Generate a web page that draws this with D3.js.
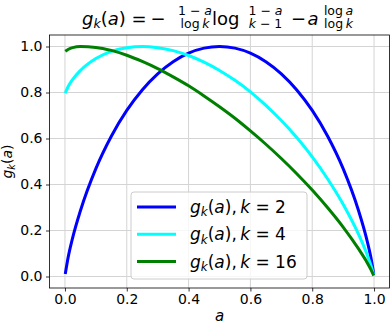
<!DOCTYPE html>
<html>
<head>
<meta charset="utf-8">
<script src="https://cdn.jsdelivr.net/npm/d3@7"></script>
<style>
  body { margin: 0; background: #fff; }
  svg { font-family: "DejaVu Sans", sans-serif; }
</style>
</head>
<body>
<div id="plot"></div>
<script>
// Width and height
const w = 391;
const h = 325;
const margin = {top: 35, right: 1.5, bottom: 37, left: 49.5};
const innerWidth = w - margin.left - margin.right;
const innerHeight = h - margin.top - margin.bottom;

// data
const aValues = [0.001, 0.01, 0.025, 0.05, 0.1, 0.15, 0.2, 0.25, 0.3, 0.35, 0.4, 0.45, 0.5,
  0.55, 0.6, 0.65, 0.7, 0.75, 0.8, 0.85, 0.9, 0.95, 0.975, 0.99, 0.999];
const gK2 = [0.011, 0.081, 0.169, 0.286, 0.469, 0.610, 0.722, 0.811, 0.881, 0.934, 0.971, 0.993, 1.0,
  0.993, 0.971, 0.934, 0.881, 0.811, 0.722, 0.610, 0.469, 0.286, 0.169, 0.081, 0.011];
const gK4 = [0.797, 0.825, 0.857, 0.896, 0.948, 0.979, 0.995, 1.0, 0.995, 0.982, 0.961, 0.932, 0.896,
  0.853, 0.803, 0.744, 0.678, 0.604, 0.520, 0.424, 0.314, 0.183, 0.104, 0.048, 0.007];
const gK16 = [0.979, 0.987, 0.995, 0.9995, 0.996, 0.983, 0.962, 0.935, 0.904, 0.868, 0.829, 0.785, 0.738,
  0.688, 0.633, 0.575, 0.513, 0.447, 0.376, 0.299, 0.215, 0.120, 0.067, 0.030, 0.004];
const seriesK = ["2", "4", "16"];
const seriesColors = ["#0000ff", "#00ffff", "#008000"];
const xTicks = [0, 0.2, 0.4, 0.6, 0.8, 1.0];
const yTicks = [0, 0.2, 0.4, 0.6, 0.8, 1.0];

const series = [gK2, gK4, gK16];

// create SVG element
const svg = d3.select("div#plot")
  .append("svg")
    .attr("width", w)
    .attr("height", h);

svg.append("rect")
  .attr("width", w)
  .attr("height", h)
  .attr("fill", "#ffffff");

const plot = svg.append("g")
  .attr("id", "plot")
  .attr("transform", `translate(${margin.left}, ${margin.top})`);

// scales with matplotlib style 5% margins
const xScale = d3.scaleLinear()
  .domain([-0.05, 1.05])
  .range([0, innerWidth]);

const yScale = d3.scaleLinear()
  .domain([-0.05, 1.05])
  .range([innerHeight, 0]);

// grid
plot.append("g")
  .selectAll("line")
  .data(xTicks)
  .enter()
  .append("line")
    .attr("x1", d => xScale(d))
    .attr("x2", d => xScale(d))
    .attr("y1", 0)
    .attr("y2", innerHeight)
    .attr("stroke", "#d4d4d4")
    .attr("stroke-width", 1);

plot.append("g")
  .selectAll("line")
  .data(yTicks)
  .enter()
  .append("line")
    .attr("x1", 0)
    .attr("x2", innerWidth)
    .attr("y1", d => yScale(d))
    .attr("y2", d => yScale(d))
    .attr("stroke", "#d4d4d4")
    .attr("stroke-width", 1);

// lines
const line = d3.line()
  .x((d, i) => xScale(aValues[i]))
  .y(d => yScale(d))
  .curve(d3.curveMonotoneX);

plot.append("g")
  .selectAll("path")
  .data(series)
  .enter()
  .append("path")
    .attr("d", d => line(d))
    .attr("fill", "none")
    .attr("stroke", (d, i) => seriesColors[i])
    .attr("stroke-width", 3);

// axes
const xAxis = d3.axisBottom(xScale)
  .tickValues(xTicks)
  .tickFormat(d3.format(".1f"))
  .tickSizeOuter(0)
  .tickSize(3.5)
  .tickPadding(3);

const yAxis = d3.axisLeft(yScale)
  .tickValues(yTicks)
  .tickFormat(d3.format(".1f"))
  .tickSizeOuter(0)
  .tickSize(3.5)
  .tickPadding(3.5);

const gx = plot.append("g")
  .attr("transform", `translate(0, ${innerHeight})`)
  .call(xAxis);

const gy = plot.append("g")
  .call(yAxis);

[gx, gy].forEach(g => {
  g.select(".domain").remove();
  g.selectAll("text")
    .attr("font-family", "DejaVu Sans")
    .attr("font-size", 14)
    .attr("fill", "#000");
  g.selectAll("line").attr("stroke", "#000").attr("stroke-width", 0.8);
});

// frame
plot.append("rect")
  .attr("width", innerWidth)
  .attr("height", innerHeight)
  .attr("fill", "none")
  .attr("stroke", "#000")
  .attr("stroke-width", 0.8);

// rich text helper: parts are [text, style] where style: "i" italic, "s" italic subscript, "r" back to baseline
function rich(sel, parts, size) {
  parts.forEach(p => {
    const t = sel.append("tspan").text(p[0]);
    if (p[1] === "i") t.attr("font-style", "italic");
    if (p[1] === "s") {
      t.attr("font-style", "italic")
        .attr("font-size", size * 0.7)
        .attr("dy", size * 0.2);
    }
    if (p[1] === "r") {
      t.attr("dy", -size * 0.2);
    }
  });
}

// legend
const legend = plot.append("g")
  .attr("transform", `translate(${131 - margin.left}, ${192 - margin.top})`);

legend.append("rect")
  .attr("width", 176)
  .attr("height", 87)
  .attr("rx", 3)
  .attr("fill", "#ffffff")
  .attr("fill-opacity", 0.8)
  .attr("stroke", "#cccccc")
  .attr("stroke-width", 1);

seriesK.forEach((k, i) => {
  const yy = 15 + i * 27.3;
  legend.append("line")
    .attr("x1", 6)
    .attr("x2", 45)
    .attr("y1", yy)
    .attr("y2", yy)
    .attr("stroke", seriesColors[i])
    .attr("stroke-width", 3);
  const t = legend.append("text")
    .attr("x", 59)
    .attr("y", yy + 6)
    .attr("font-size", 17)
    .attr("fill", "#000");
  rich(t, [["g", "i"], ["k", "s"], ["(", "r"], ["a", "i"], ["),\u2009", ""], ["k", "i"], [" = " + k, ""]], 17);
});

// axis labels
svg.append("text")
  .attr("x", margin.left + xScale(0.5))
  .attr("y", 321)
  .attr("text-anchor", "middle")
  .attr("font-size", 15)
  .attr("font-style", "italic")
  .text("a");

const ylab = svg.append("text")
  .attr("transform", `translate(12, ${margin.top + innerHeight / 2}) rotate(-90)`)
  .attr("text-anchor", "middle")
  .attr("font-size", 14);
rich(ylab, [["g", "i"], ["k", "s"], ["(", "r"], ["a", "i"], [")", ""]], 14);

// title, piece by piece (math layout)
const title = svg.append("g");
const mainSize = 18;
const fracSize = 12.5;

function piece(x, y, parts, size, anchor) {
  const t = title.append("text")
    .attr("x", x)
    .attr("y", y)
    .attr("font-size", size)
    .attr("text-anchor", anchor || "start");
  rich(t, parts, size);
}

function frac(cxm, num, den) {
  piece(cxm, 15, num, fracSize, "middle");
  piece(cxm, 28, den, fracSize, "middle");
}

piece(82, 24.5, [["g", "i"], ["k", "s"], ["(", "r"], ["a", "i"], [") =", ""]], mainSize);
piece(158, 24.5, [["\u2212", ""]], mainSize, "middle");
frac(195, [["1 \u2212 ", ""], ["a", "i"]], [["log\u2009", ""], ["k", "i"]]);
piece(212, 24.5, [["log", ""]], mainSize);
frac(265.5, [["1 \u2212 ", ""], ["a", "i"]], [["k", "i"], [" \u2212 1", ""]]);
piece(298.5, 24.5, [["\u2212", ""]], mainSize, "middle");
piece(307.5, 24.5, [["a", "i"]], mainSize);
frac(338.5, [["log\u2009", ""], ["a", "i"]], [["log\u2009", ""], ["k", "i"]]);
</script>
</body>
</html>
